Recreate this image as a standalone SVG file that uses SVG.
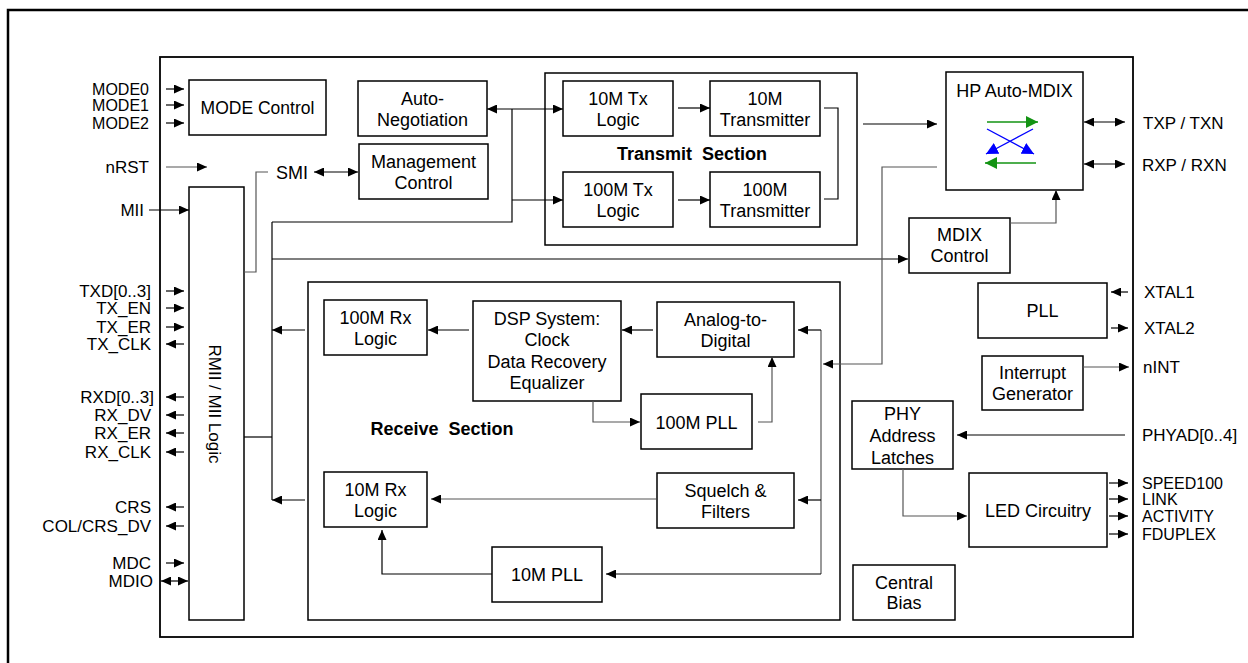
<svg xmlns="http://www.w3.org/2000/svg" width="1248" height="663" viewBox="0 0 1248 663">
<style>
text{font-family:"Liberation Sans",Arial,sans-serif;fill:#000}
.b{font-size:18px;text-anchor:middle}
.bd{font-size:18px;font-weight:bold;text-anchor:middle;white-space:pre}
.pl{font-size:17px;text-anchor:end}
.pr{font-size:17px;text-anchor:start}
.t{font-size:16px}
.box{fill:#fff;stroke:#000;stroke-width:1.5}
.c path{fill:none;stroke:#000;stroke-width:1.2}
.c .g{stroke:#555}
.a{marker-end:url(#ah)}
.s{marker-start:url(#ah)}
</style>
<defs>
<marker id="ah" markerUnits="userSpaceOnUse" markerWidth="11" markerHeight="9" refX="10" refY="4.5" orient="auto-start-reverse" viewBox="0 0 11 9"><path d="M0,0L10,4.5L0,9z" fill="#000"/></marker>
<marker id="ag" markerUnits="userSpaceOnUse" markerWidth="13" markerHeight="12" refX="12" refY="6" orient="auto" viewBox="0 0 13 12"><path d="M0,0L12,6L0,12z" fill="#139313"/></marker>
<marker id="ab" markerUnits="userSpaceOnUse" markerWidth="13" markerHeight="12" refX="12" refY="6" orient="auto" viewBox="0 0 13 12"><path d="M0,0L12,6L0,12z" fill="#0000ff"/></marker>
</defs>
<rect width="1248" height="663" fill="#fff"/>
<path d="M8,663V10H1248" fill="none" stroke="#000" stroke-width="2.5"/>
<g id="chip"><rect x="160" y="57" width="973" height="580" fill="none" stroke="#000" stroke-width="1.8"/></g>
<g id="transmit-section"><rect x="545" y="73" width="312" height="172" class="box"/><text class="bd" x="692" y="160" xml:space="preserve">Transmit  Section</text></g>
<g id="receive-section"><rect x="308" y="282" width="532" height="338" class="box"/><text class="bd" x="442" y="434.5" xml:space="preserve">Receive  Section</text></g>

<g id="mode-control"><rect x="189" y="80" width="137" height="55" class="box"/><text class="b" style="font-size:17.5px" x="257.5" y="114">MODE Control</text></g>
<g id="auto-negotiation"><rect x="358" y="81" width="129" height="55" class="box"/><text class="b" x="422.5" y="104.5">Auto-</text><text class="b" x="422.5" y="125.5">Negotiation</text></g>
<g id="management-control"><rect x="359" y="144" width="129" height="55" class="box"/><text class="b" x="423.5" y="167.5">Management</text><text class="b" x="423.5" y="188.5">Control</text></g>
<g id="rmii-logic"><rect x="189" y="187" width="55" height="433" class="box"/><text transform="translate(215,404) rotate(90)" x="0" y="6" style="font-size:17px;text-anchor:middle">RMII / MII Logic</text></g>
<g id="tx10-logic"><rect x="563" y="81" width="110" height="55" class="box"/><text class="b" x="618" y="104.5">10M Tx</text><text class="b" x="618" y="125.5">Logic</text></g>
<g id="tx10-transmitter"><rect x="710" y="81" width="110" height="55" class="box"/><text class="b" x="765" y="104.5">10M</text><text class="b" x="765" y="125.5">Transmitter</text></g>
<g id="tx100-logic"><rect x="563" y="172" width="110" height="55" class="box"/><text class="b" x="618" y="195.5">100M Tx</text><text class="b" x="618" y="216.5">Logic</text></g>
<g id="tx100-transmitter"><rect x="710" y="172" width="110" height="55" class="box"/><text class="b" x="765" y="195.5">100M</text><text class="b" x="765" y="216.5">Transmitter</text></g>
<g id="hp-auto-mdix"><rect x="946" y="72" width="137" height="118" class="box"/><text class="b" x="1014.5" y="96.5">HP Auto-MDIX</text>
<path d="M987,122H1038" stroke="#139313" stroke-width="1.6" marker-end="url(#ag)"/>
<path d="M1036,163H985" stroke="#139313" stroke-width="1.6" marker-end="url(#ag)"/>
<path d="M987,129L1034,154" stroke="#0000ff" stroke-width="1.4" marker-end="url(#ab)"/>
<path d="M1033,129L986,154" stroke="#0000ff" stroke-width="1.4" marker-end="url(#ab)"/></g>
<g id="mdix-control"><rect x="909" y="218" width="101" height="55" class="box"/><text class="b" x="959.5" y="240.5">MDIX</text><text class="b" x="959.5" y="261.5">Control</text></g>
<g id="rx100-logic"><rect x="324" y="300" width="103" height="55" class="box"/><text class="b" x="375.5" y="323.5">100M Rx</text><text class="b" x="375.5" y="344.5">Logic</text></g>
<g id="dsp-system"><rect x="473" y="301" width="148" height="100" class="box"/><text class="b" x="547" y="324.5">DSP System:</text><text class="b" x="547" y="346">Clock</text><text class="b" x="547" y="367.5">Data Recovery</text><text class="b" x="547" y="389">Equalizer</text></g>
<g id="analog-to-digital"><rect x="657" y="302" width="137" height="55" class="box"/><text class="b" x="725.5" y="325.5">Analog-to-</text><text class="b" x="725.5" y="346.5">Digital</text></g>
<g id="pll100"><rect x="641" y="394" width="111" height="55" class="box"/><text class="b" x="696.5" y="428.5">100M PLL</text></g>
<g id="rx10-logic"><rect x="324" y="472" width="103" height="55" class="box"/><text class="b" x="375.5" y="495.5">10M Rx</text><text class="b" x="375.5" y="516.5">Logic</text></g>
<g id="squelch-filters"><rect x="657" y="473" width="137" height="55" class="box"/><text class="b" x="725.5" y="496.5">Squelch &amp;</text><text class="b" x="725.5" y="517.5">Filters</text></g>
<g id="pll10"><rect x="492" y="547" width="110" height="55" class="box"/><text class="b" x="547" y="581">10M PLL</text></g>
<g id="pll"><rect x="978" y="283" width="129" height="55" class="box"/><text class="b" x="1042.5" y="316.5">PLL</text></g>
<g id="interrupt-generator"><rect x="982" y="356" width="101" height="54" class="box"/><text class="b" x="1032.5" y="379">Interrupt</text><text class="b" x="1032.5" y="400">Generator</text></g>
<g id="phy-address-latches"><rect x="852" y="401" width="101" height="68" class="box"/><text class="b" x="902.5" y="419.5">PHY</text><text class="b" x="902.5" y="441.5">Address</text><text class="b" x="902.5" y="463.5">Latches</text></g>
<g id="led-circuitry"><rect x="969" y="473" width="138" height="74" class="box"/><text class="b" x="1038" y="516.5">LED Circuitry</text></g>
<g id="central-bias"><rect x="853" y="565" width="102" height="55" class="box"/><text class="b" x="904" y="588.5">Central</text><text class="b" x="904" y="609">Bias</text></g>

<g id="pins-left">
<text class="pl t" x="149" y="94.5">MODE0</text><text class="pl t" x="149" y="110.5">MODE1</text><text class="pl t" x="149" y="128.5">MODE2</text>
<text class="pl" x="149" y="173">nRST</text><text class="pl" x="144" y="216">MII</text>
<text class="pl" x="151" y="297">TXD[0..3]</text><text class="pl" x="151" y="314">TX_EN</text><text class="pl" x="151" y="333">TX_ER</text><text class="pl" x="151" y="350">TX_CLK</text>
<text class="pl" x="154" y="403">RXD[0..3]</text><text class="pl" x="151" y="421">RX_DV</text><text class="pl" x="151" y="439">RX_ER</text><text class="pl" x="151" y="458">RX_CLK</text>
<text class="pl" x="151" y="513">CRS</text><text class="pl" x="151" y="532">COL/CRS_DV</text>
<text class="pl" x="151" y="569">MDC</text><text class="pl" x="153" y="587">MDIO</text>
</g>
<g id="smi-label"><text x="276" y="178.5" style="font-size:18px">SMI</text></g>
<g id="pins-right">
<text class="pr" x="1143" y="128.5">TXP / TXN</text><text class="pr" x="1142" y="170.5">RXP / RXN</text>
<text class="pr" x="1144" y="298">XTAL1</text><text class="pr" x="1144" y="334">XTAL2</text>
<text class="pr" x="1143" y="373">nINT</text><text class="pr" x="1142" y="441">PHYAD[0..4]</text>
<text class="pr t" x="1142" y="488.5">SPEED100</text><text class="pr t" x="1142" y="504.5">LINK</text><text class="pr t" x="1142" y="521.5">ACTIVITY</text><text class="pr t" x="1142" y="539.5">FDUPLEX</text>
</g>

<g id="connectors" class="c">
<path class="a" d="M166,89H184"/><path class="a" d="M166,105H184"/><path class="a" d="M166,123H184"/>
<path class="a g" d="M166,167H207"/>
<path class="a" d="M149,210H189"/>
<path class="a s" d="M314,172H358"/>
<path class="g" d="M268,172H256V272H244"/>
<path class="a" d="M166,291H184"/><path class="a" d="M166,308H184"/><path class="a" d="M166,327H184"/><path class="a" d="M184,344H166"/>
<path class="a" d="M184,397H166"/><path class="a" d="M184,415H166"/><path class="a" d="M184,433H166"/><path class="a" d="M184,452H166"/>
<path class="a" d="M184,507H166"/><path class="a" d="M184,526H166"/>
<path class="a" d="M166,563H184"/><path class="a s" d="M161,581H188"/>
<path d="M244,437H272"/><path d="M272,222V500"/>
<path class="a" d="M305,330H272"/><path class="a" d="M305,500H272"/>
<path d="M272,222H512V109"/>
<path class="a s" d="M487,109H563"/>
<path class="a" d="M512,200H563"/>
<path class="a" d="M272,259H908"/>
<path class="a" d="M678,108H710"/><path class="a" d="M678,200H710"/>
<path d="M824,108H838V199H824"/>
<path class="a" d="M863,124H937"/>
<path class="a g" d="M937,167H882V364H823"/>
<path class="a g" d="M1010,223H1056V190"/>
<path class="a s" d="M1084,122H1125"/><path class="a s" d="M1084,164H1125"/>
<path class="a" d="M469,330H428"/>
<path class="a" d="M653,330H622"/>
<path class="a g" d="M593,401V422H640"/>
<path class="a g" d="M758,422H772V357"/>
<path class="g" d="M821,330V574"/>
<path class="a" d="M821,330H798"/><path class="a" d="M821,500H798"/><path class="a" d="M821,574H606"/>
<path class="a g" d="M656,499H431"/>
<path class="a" d="M492,574H382V530"/>
<path class="a" d="M1128,292H1111"/><path class="a" d="M1111,328H1128"/>
<path class="a g" d="M1083,367H1129"/>
<path class="a" d="M1125,435H957"/>
<path class="a g" d="M903,469V516H967"/>
<path class="a" d="M1109,483H1128"/><path class="a" d="M1109,499H1128"/><path class="a" d="M1109,516H1128"/><path class="a" d="M1109,534H1128"/>
</g>
</svg>
